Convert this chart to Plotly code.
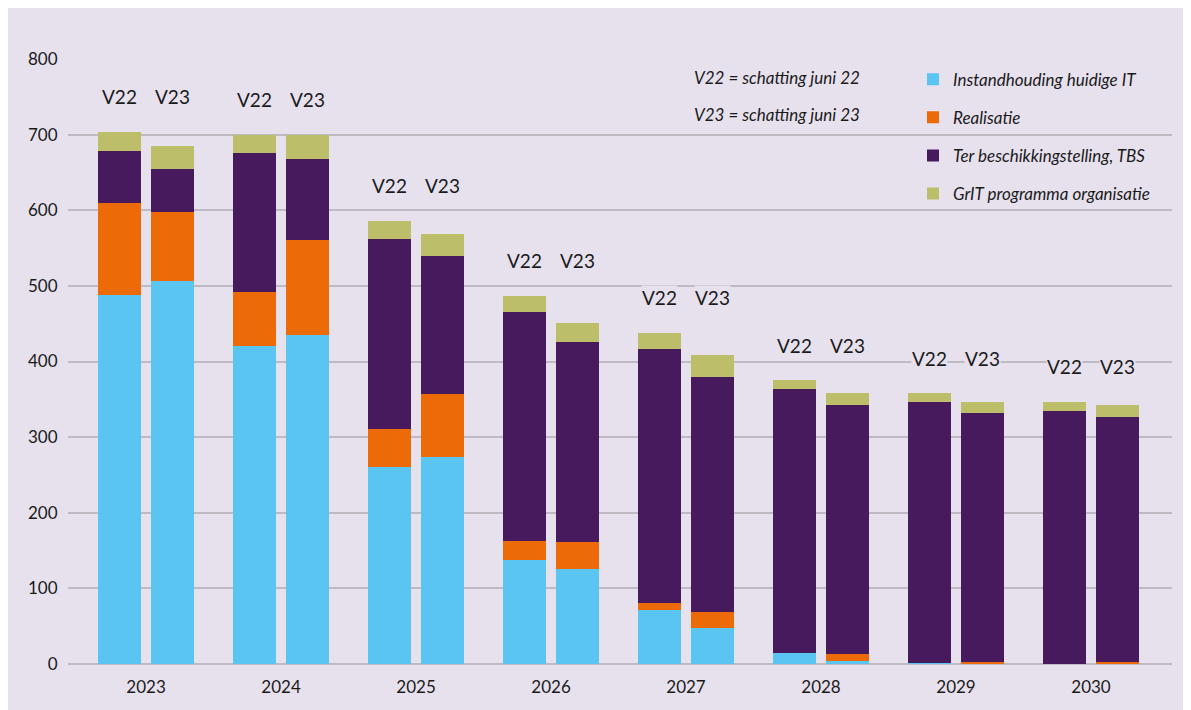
import plotly.graph_objects as go

years = ["2023", "2024", "2025", "2026", "2027", "2028", "2029", "2030"]
versions = ["V22", "V23"]

# values per year: [V22, V23]
instandhouding = [[488, 507], [421, 435], [261, 274], [138, 126], [71, 48], [15, 4], [1, 0], [0, 0]]
realisatie = [[122, 91], [71, 126], [50, 83], [25, 35], [10, 21], [0, 9], [0, 2], [0, 2]]
tbs = [[69, 57], [184, 107], [251, 182], [303, 265], [336, 310], [348, 330], [345, 330], [335, 324]]
grit = [[25, 30], [23, 32], [24, 30], [21, 25], [21, 29], [12, 16], [12, 15], [12, 16]]

series_names = ["Instandhouding huidige IT", "Realisatie", "Ter beschikkingstelling, TBS", "GrIT programma organisatie"]
series_values = [instandhouding, realisatie, tbs, grit]
colors = ["#5BC5F2", "#EC6A08", "#461A5C", "#BDBE6A"]

notes = ["V22 = schatting juni 22", "V23 = schatting juni 23"]

BG = "#E7E1EE"
FONT = "Lato"
OFF = 0.196
WIDTH = 0.3185

xs = []
for i in range(len(years)):
    xs.extend([i - OFF, i + OFF])

fig = go.Figure()
for name, vals, col in zip(series_names, series_values, colors):
    y = [v for pair in vals for v in pair]
    fig.add_trace(go.Bar(
        x=xs, y=y, name=name, width=WIDTH,
        marker=dict(color=col, line=dict(width=0)),
        legendgroup=name,
    ))

# version labels above each pair
for i in range(len(years)):
    tot = [sum(s[i][k] for s in series_values) for k in range(2)]
    top = max(tot)
    for k, v in enumerate(versions):
        fig.add_annotation(
            x=i + (-OFF if k == 0 else OFF), y=top, text=v, showarrow=False,
            yanchor="middle", yshift=35, xref="x", yref="y",
            font=dict(family=FONT, size=19, color="#1a1a1a"),
            bgcolor=BG, borderpad=0,
        )

# notes
for j, t in enumerate(notes):
    fig.add_annotation(
        x=(862 - 68) / 1104, y=(664.3 - (78 + 37 * j)) / 605, xref="paper", yref="paper",
        text=t, showarrow=False, xanchor="right", yanchor="middle",
        font=dict(family=FONT, size=17, color="#1a1a1a", style="italic"),
    )

fig.update_layout(
    width=1191, height=710,
    barmode="stack",
    paper_bgcolor=BG,
    plot_bgcolor=BG,
    margin=dict(l=60, r=27, t=51, b=54),
    font=dict(family=FONT, size=17, color="#1a1a1a"),
    bargap=0,
    showlegend=True,
    legend=dict(
        x=(913 - 68) / 1104, y=(664.3 - 62) / 605, xanchor="left", yanchor="top",
        bgcolor="rgba(0,0,0,0)", traceorder="grouped", tracegroupgap=13,
        font=dict(family=FONT, size=17, color="#1a1a1a", style="italic"),
    ),
    xaxis=dict(
        range=[-0.578, 7.6],
        tickmode="array", tickvals=list(range(len(years))), ticktext=years,
        showgrid=False, zeroline=False, showline=False,
        ticks="outside", ticklen=8, tickcolor="rgba(0,0,0,0)",
        tickfont=dict(family=FONT, size=17, color="#1a1a1a"),
    ),
    yaxis=dict(
        range=[0, 800], dtick=100, showgrid=True, gridcolor="#BDBAC1", gridwidth=2,
        zeroline=True, zerolinecolor="#BDBAC1", zerolinewidth=2, showline=False,
        ticks="outside", ticklen=6, tickcolor="rgba(0,0,0,0)",
        tickfont=dict(family=FONT, size=17, color="#1a1a1a"),
    ),
)

fig.write_html("out.html")
